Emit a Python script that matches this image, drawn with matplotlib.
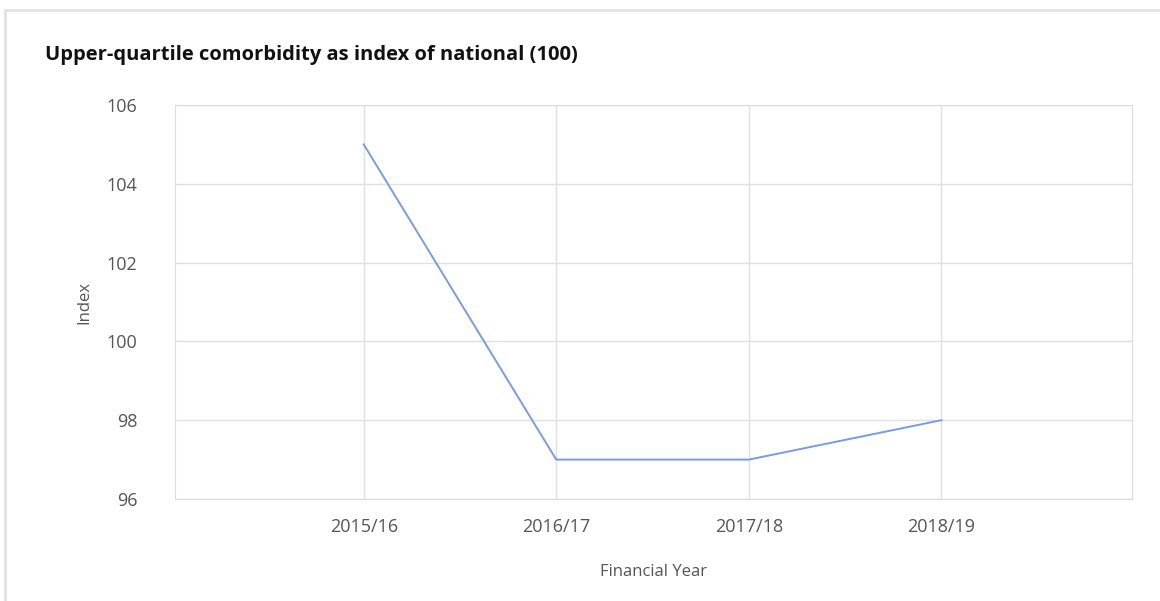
import matplotlib.pyplot as plt
from matplotlib.patches import Rectangle

years = ["2015/16", "2016/17", "2017/18", "2018/19"]
index_values = [105, 97, 97, 98]
y_ticks = [96, 98, 100, 102, 104, 106]

plt.rcParams['font.family'] = ['Open Sans', 'DejaVu Sans']

fig = plt.figure(figsize=(11.6, 6.01), dpi=100)
fig.patch.set_facecolor('white')

# card border
fig.patches.append(Rectangle((5 / 1160, -0.05), 1.1, 1 - 10 / 601 + 0.05,
                             transform=fig.transFigure, fill=False,
                             edgecolor='#e2e2e2', linewidth=2))

ax = fig.add_axes([175 / 1160, 1 - 499 / 601, (1132 - 175) / 1160, (499 - 105) / 601])
x = list(range(len(years)))
ax.plot(x, index_values, color='#7b9be0', linewidth=1.4)

ax.set_xlim(-0.98, 3.99)
ax.set_ylim(96, 106)
ax.set_xticks(x)
ax.set_xticklabels(years)
ax.set_yticks(y_ticks)
ax.grid(True, color='#e0e0e0', linewidth=1)
ax.set_axisbelow(True)
for s in ax.spines.values():
    s.set_color('#dcdcdc')
ax.tick_params(length=0, colors='#555555', labelsize=13)
ax.tick_params(axis='x', pad=14)
ax.tick_params(axis='y', pad=27)

ax.set_xlabel("Financial Year", fontsize=12, color='#555555', labelpad=20)
ax.set_ylabel("Index", fontsize=12, color='#555555', labelpad=10)

fig.text(45 / 1160, 1 - 55 / 601, "Upper-quartile comorbidity as index of national (100)",
         fontsize=14.5, fontweight='bold', color='#111111', va='center')

fig.savefig("out.png", dpi=100)
